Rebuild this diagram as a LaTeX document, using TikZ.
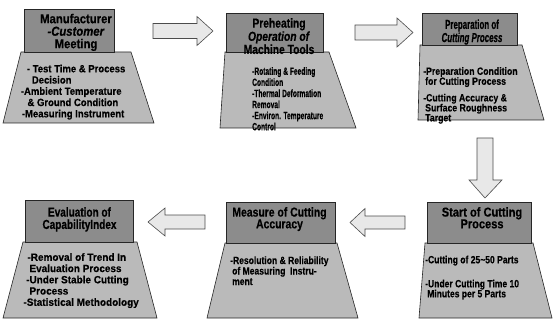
\documentclass[tikz,border=0pt]{standalone}
\usepackage{fontspec}
\setmainfont{Liberation Sans}
\begin{document}
\begin{tikzpicture}[x=1pt,y=-1pt,
  hdr/.style={draw=black!85, line width=0.6pt, fill=black!45, inner sep=0pt},
  trap/.style={draw=black!85, line width=0.6pt, fill=black!27},
  blk/.style={draw=black!70, line width=0.6pt, fill=black!9, line join=miter},
  htext/.style 2 args={font={\fontsize{13}{#2}\selectfont\bfseries\addfontfeature{FakeStretch=#1,FakeBold=0.4}}, align=center, inner sep=0pt, anchor=north},
  btext/.style 2 args={font={\fontsize{10.5}{#2}\selectfont\bfseries\addfontfeature{FakeStretch=#1,FakeBold=0.3}}, align=left, inner sep=0pt, anchor=north west}]
\useasboundingbox (0,0) rectangle (553,320);

% ---------- trapezoids ----------
\draw[trap] (21,52) -- (131,52) -- (154,123) -- (3,123) -- cycle;
\draw[trap] (225,52) -- (329,52) -- (356,128) -- (220,128) -- cycle;
\draw[trap] (420,45) -- (522,45) -- (544,120) -- (418,120) -- cycle;
\draw[trap] (23,242) -- (137,242) -- (157,318) -- (3,318) -- cycle;
\draw[trap] (225,243) -- (337,243) -- (358,318) -- (207,318) -- cycle;
\draw[trap] (425,243) -- (533,243) -- (552,318) -- (419,318) -- cycle;

% ---------- header boxes ----------
\node[hdr, minimum width=90, minimum height=42.5] (h1) at (69,30.75) {};
\node[hdr, minimum width=97, minimum height=39] (h2) at (274.5,32.5) {};
\node[hdr, minimum width=95, minimum height=32] (h3) at (469.5,29) {};
\node[hdr, minimum width=108, minimum height=42] (h4) at (79,221) {};
\node[hdr, minimum width=109, minimum height=41] (h5) at (280.5,222.5) {};
\node[hdr, minimum width=104, minimum height=41] (h6) at (479,222.5) {};

% ---------- header texts ----------
\node[htext={0.87}{12.5}] (t1) at (76,13.6) {Manufacturer\\\textit{-Customer}\\Meeting};
\node[htext={0.79}{12}] (t2) at (279,18) {Preheating\\\textit{Operation of}\\Machine Tools};
\node[htext={0.61}{11}] (t3) at (472,19.3) {Preparation of\\\textit{Cutting Process}};
\node[htext={0.77}{12.3}] (t4) at (79.5,207) {Evaluation of\\CapabilityIndex};
\node[htext={0.80}{11.7}] (t5) at (279.5,207) {Measure of Cutting\\Accuracy};
\node[htext={0.85}{11.7}] (t6) at (482,207) {Start of Cutting\\Process};

% ---------- body texts ----------
\node[btext={0.905}{11.25}] (b1) at (20.7,64.5) {\hspace*{6pt}- Test Time \& Process\\\hspace*{11pt}Decision\\-Ambient Temperature\\\hspace*{6.6pt}\& Ground Condition\\\hspace*{1pt}-Measuring Instrument};
\node[btext={0.633}{11.1}] (b2) at (252,67) {-Rotating \& Feeding\\Condition\\-Thermal Deformation\\Removal\\-Environ. Temperature\\Control};
\node[btext={0.83}{10}] (b3) at (423,67) {-Preparation Condition\\\hspace*{2pt}for Cutting Process\\[6.6pt]-Cutting Accuracy \&\\\hspace*{2pt}Surface Roughness\\\hspace*{2pt}Target};
\node[btext={0.95}{11.25}] (b4) at (23.3,253) {\hspace*{4pt}-Removal of Trend In\\\hspace*{6pt}Evaluation Process\\\hspace*{2.7pt}-Under Stable Cutting\\\hspace*{6pt}Process\\-Statistical Methodology};
\node[btext={0.814}{10.5}] (b5) at (230,256.2) {-Resolution \& Reliability\\\hspace*{2pt}of Measuring\ \ Instru-\\\hspace*{2pt}ment};
\node[btext={0.814}{10}] (b6) at (425,255.5) {-Cutting of 25\textasciitilde 50 Parts\\[14pt]-Under Cutting Time 10\\\hspace*{2pt}Minutes per 5 Parts};

% ---------- block arrows ----------
\draw[blk] (153,23.5) -- (197,23.5) -- (197,16.5) -- (213,31) -- (197,45.5) -- (197,38.5) -- (153,38.5) -- cycle;
\draw[blk] (355,25) -- (397,25) -- (397,18) -- (413,32.5) -- (397,47) -- (397,40) -- (355,40) -- cycle;
\draw[blk] (477,138) -- (493,138) -- (493,180) -- (502,180) -- (485,198) -- (469,180) -- (477,180) -- cycle;
\draw[blk] (205,215) -- (165,215) -- (165,208) -- (148,222) -- (165,236) -- (165,229) -- (205,229) -- cycle;
\draw[blk] (405,216) -- (365,216) -- (365,208.5) -- (350,222.5) -- (365,236.5) -- (365,229) -- (405,229) -- cycle;
\end{tikzpicture}
\end{document}
